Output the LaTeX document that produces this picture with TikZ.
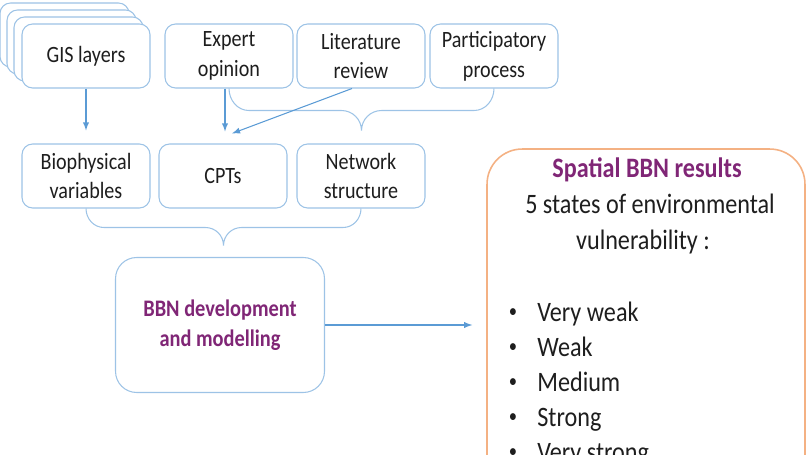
\documentclass[tikz,border=0pt]{standalone}
\usepackage{fontspec}
\setmainfont{Carlito}[FakeStretch=0.86]
\usetikzlibrary{calc}
\definecolor{boxblue}{RGB}{157,195,230}
\definecolor{arrblue}{RGB}{91,155,213}
\definecolor{bbnpurple}{RGB}{128,38,118}
\definecolor{resorange}{RGB}{244,177,131}
\definecolor{txtgray}{RGB}{30,30,30}

\begin{document}
\begin{tikzpicture}[x=0.02cm, y=0.02cm, >=latex,
		box/.style={draw=boxblue, line width=0.6pt, fill=white, rounded corners=6pt, minimum width=2.56cm, minimum height=1.28cm, inner sep=0pt, align=center, text=txtgray, font=\fontsize{13.3}{17}\selectfont},
		flow/.style={draw=arrblue, line width=0.6pt, ->},
		brace/.style={draw=boxblue, line width=0.6pt},
		restext/.style={inner sep=0pt, text=txtgray, font=\fontsize{16}{20}\selectfont}]
			\useasboundingbox (0,0) rectangle (808,-455);
			\clip (0,0) rectangle (808,-455);
			% pile of GIS layers
			\foreach \k in {3,2,1}
				\draw[brace, fill=white, rounded corners=6pt] (21-7*\k,-24+7*\k) rectangle (150-7*\k,-88+7*\k);
			\node[box] (gis) at (86,-56) {GIS layers};
			\node[box] (expert) at (229,-56) {Expert\\opinion};
			\node[box] (lit) at (361,-56) {Literature\\review};
			\node[box] (part) at (494,-56) {Participatory\\process};
			\node[box] (bio) at (86,-176) {Biophysical\\variables};
			\node[box] (cpt) at (223,-176) {CPTs};
			\node[box] (net) at (361,-176) {Network\\structure};
			\node[box, rounded corners=12pt, minimum width=4.18cm, minimum height=2.7cm, text=bbnpurple, font=\fontsize{13.5}{17}\bfseries\selectfont] (bbn) at (220,-325) {BBN development\\and modelling};
			\node[draw=resorange, line width=0.9pt, rounded corners=20pt, minimum width=6.36cm, minimum height=8cm] (res) at (646,-349) {};
			% braces
			\coordinate (tipT) at ($(expert.south)!0.5!(part.south)+(0,-42)$);
			\coordinate (tipB) at ($(bio.south)!0.5!(net.south)+(0,-37)$);
			\draw[brace] (expert.south) to[out=-90,in=180] ++(20,-22) -- ($(tipT)+(-20,20)$) to[out=0,in=90] (tipT)
				to[out=90,in=180] ($(tipT)+(20,20)$) -- ($(part.south)+(-20,-22)$) to[out=0,in=-90] (part.south);
			\draw[brace] (bio.south) to[out=-90,in=180] ++(18,-19) -- ($(tipB)+(-18,18)$) to[out=0,in=90] (tipB)
				to[out=90,in=180] ($(tipB)+(18,18)$) -- ($(net.south)+(-18,-19)$) to[out=0,in=-90] (net.south);
			% arrows
			\coordinate (expfoot) at ($(expert.south)+(-4,0)$);
			\draw[flow, shorten >=0.26cm] (gis) -- (bio);
			\draw[flow, shorten >=0.24cm] (expfoot) -- (expfoot |- cpt.north);
			\draw[flow] ($(lit.south)+(-9,0)$) -- ($(cpt.north)+(9,10)$);
			\draw[flow, shorten >=0.28cm] (bbn.east) -- (bbn.east -| res.west);
			% results
			\node[restext, anchor=base, text=bbnpurple, font=\fontsize{16}{20}\bfseries\selectfont] (title) at (647,-178) {Spatial BBN results};
			\node[restext, anchor=base] (states) at (650,-214) {5 states of environmental};
			\node[restext, anchor=base] (vuln) at (643,-250) {vulnerability :};
			\foreach \s [count=\i] in {Very weak,Weak,Medium,Strong,Very strong}{
				\node[restext, anchor=base, font=\fontsize{11}{13}\selectfont] (dot\i) at (513,-318-35*\i+35) {\textbullet};
				\node[restext, anchor=base west] (state\i) at (537,-322-35*\i+35) {\s};
			}
		\end{tikzpicture}
\end{document}
